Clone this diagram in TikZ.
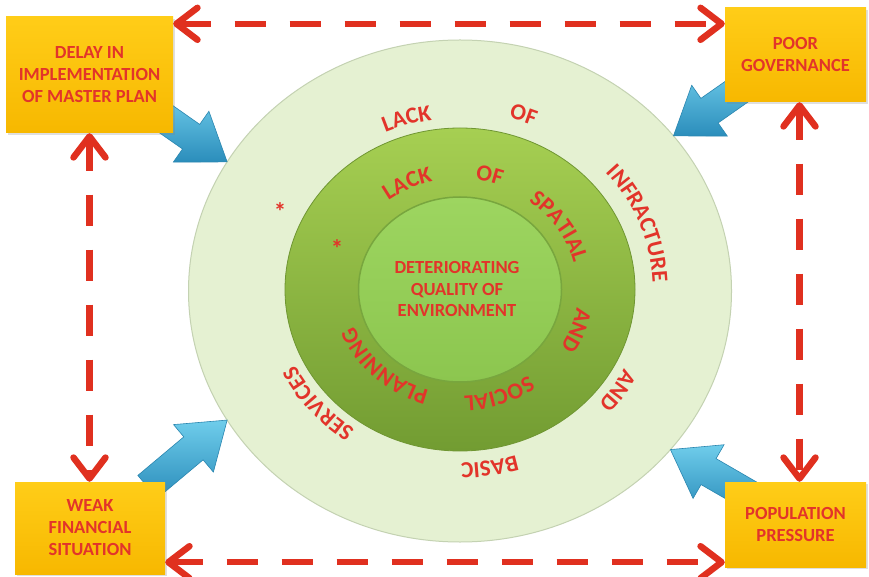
\documentclass[tikz,border=0pt]{standalone}
\usepackage{fontspec}
\setmainfont{Carlito}
\usetikzlibrary{arrows.meta,decorations.text,shadows,calc,shapes.geometric}
\definecolor{myred}{HTML}{E2342A}
\definecolor{arrowred}{HTML}{E0301F}
\definecolor{boxtop}{HTML}{FFCD18}
\definecolor{boxbot}{HTML}{F7B800}
\definecolor{ringpale}{HTML}{E5F1D2}
\definecolor{ringedge}{HTML}{C4D2B2}
\definecolor{midtop}{HTML}{A6CF52}
\definecolor{midbot}{HTML}{729C32}
\definecolor{midedge}{HTML}{6F9632}
\definecolor{intop}{HTML}{9DD560}
\definecolor{inbot}{HTML}{8CC64F}
\definecolor{inedge}{HTML}{78A63E}
\definecolor{blueA}{HTML}{6FCDEB}
\definecolor{blueB}{HTML}{2B8DBB}
\definecolor{blueC}{HTML}{2A86B0}
\newcommand\boxfont{\fontsize{18.5}{22}\selectfont\bfseries}
\newcommand\centfont{\fontsize{18.5}{21.5}\selectfont\bfseries}
\newcommand\wordfont{\fontsize{23}{26}\selectfont\bfseries}
\newcommand\starfont{\fontsize{25}{28}\selectfont\bfseries}
\newcommand\ringword[4]{%
  \path[decorate, decoration={text along path, text align=center,
      text={|\wordfont\color{myred}|#3}}]
    ($(C)+({1.08*#1*cos(#2+#4)},{#1*sin(#2+#4)})$)
    arc[start angle={#2+#4}, end angle={#2-#4}, x radius={1.08*#1}, y radius={#1}];
}
\newcommand\bluearrow[3]{%
  \begin{scope}[shift={(#1)}, rotate=#2]
    \shade[bluearr] (0,0) -- (-44,31) -- (-44,15) -- (-#3,15) -- (-#3,-15)
      -- (-44,-15) -- (-44,-31) -- cycle;
  \end{scope}
}
\tikzset{
  ring/.style={ellipse, inner sep=0pt, outer sep=0pt},
  infobox/.style={rectangle, top color=boxtop, bottom color=boxbot, text=myred,
    font=\boxfont, align=center, inner sep=0pt,
    drop shadow={opacity=0.25, shadow xshift=1.5pt, shadow yshift=-2pt}},
  dasharrow/.style={draw=arrowred, line width=6.5pt, dash pattern=on 31pt off 24pt,
    {Straight Barb[length=21pt,width=32pt,round]}-{Straight Barb[length=21pt,width=32pt,round]}},
  bluearr/.style={top color=blueA, bottom color=blueB, draw=blueC, line width=0.6pt},
}
\begin{document}
\begin{tikzpicture}[x=1pt,y=1pt]
\useasboundingbox (0,0) rectangle (869,576);
\fill[white] (0,0) rectangle (869,576);
% rings
\node[ring, fill=ringpale, draw=ringedge, line width=1pt,
  minimum width=543pt, minimum height=502pt] (outer) at (460,285) {};
\coordinate (C) at (460,286.5);
\node[ring, top color=midtop, bottom color=midbot, draw=midedge, line width=0.8pt,
  minimum width=350pt, minimum height=323pt] (middle) at (C) {};
\node[ring, top color=intop, bottom color=inbot, draw=inedge, line width=1.5pt,
  minimum width=203pt, minimum height=185pt] (inner) at (C) {};
\node[text=myred, font=\centfont, align=center] (ctext) at (457,287)
  {DETERIORATING\\QUALITY OF\\ENVIRONMENT};
% outer ring words
\ringword{171.5}{106.5}{LACK}{30}
\ringword{177.5}{71}{OF}{30}
\ringword{178.5}{21}{INFRACTURE}{45}
\ringword{171.5}{-34}{AND}{30}
\ringword{173.5}{-81}{BASIC}{30}
\ringword{170.5}{-140}{SERVICES}{40}
% middle ring words
\ringword{111}{115.5}{LACK}{40}
\ringword{111}{76}{OF}{40}
\ringword{108.5}{33}{SPATIAL}{55}
\ringword{109.5}{-20}{AND}{40}
\ringword{106.5}{-70}{SOCIAL}{55}
\ringword{104.5}{-134}{PLANNING}{60}
\node[text=myred, font=\starfont] (star1) at (280,364) {*};
\node[text=myred, font=\starfont] (star2) at (337,327) {*};
% blue arrows
\bluearrow{outer.151}{-35}{98}
\bluearrow{outer.36.8}{215}{98}
\bluearrow{outer.209.7}{40}{104}
\bluearrow{outer.-37.8}{150}{98}
% boxes
\node[infobox, minimum width=167pt, minimum height=116pt] (TL) at (89.5,501)
  {DELAY IN\\IMPLEMENTATION\\OF MASTER PLAN};
\node[infobox, minimum width=141pt, minimum height=94pt] (TR) at (795.5,521)
  {POOR\\GOVERNANCE};
\node[infobox, minimum width=150pt, minimum height=92pt] (BL) at (90,48)
  {WEAK\\FINANCIAL\\SITUATION};
\node[infobox, minimum width=141pt, minimum height=85pt] (BR) at (795.5,51.5)
  {POPULATION\\PRESSURE};
% dashed double arrows
\draw[dasharrow] ([yshift=-7pt]TL.north east) -- ([yshift=-7pt]TL.north east -| TR.west);
\draw[dasharrow] ([yshift=12pt]BL.south east) -- ([yshift=12pt]BL.south east -| BR.west);
\draw[dasharrow] (TL.south) -- (TL.south |- BL.north);
\draw[dasharrow] ([xshift=4pt]TR.south) -- ([xshift=4pt]TR.south |- BR.north);
\end{tikzpicture}
\end{document}
